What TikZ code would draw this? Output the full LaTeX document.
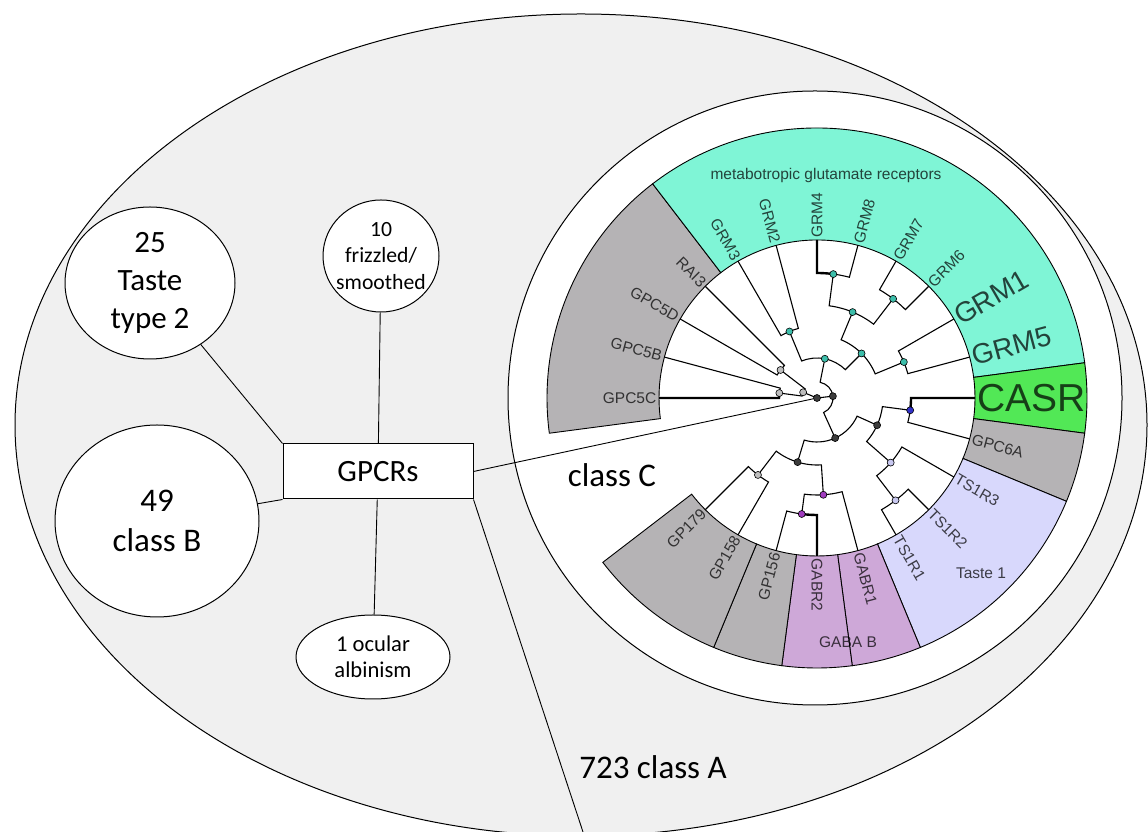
\documentclass[tikz,border=0pt]{standalone}
\usepackage{fontspec}
\setmainfont{Carlito}
\newfontfamily\treefont{Liberation Sans}
\usetikzlibrary{shapes.geometric}

\definecolor{bggray}{RGB}{240,240,240}
\definecolor{grmteal}{RGB}{127,245,214}
\definecolor{casrgreen}{RGB}{82,232,86}
\definecolor{sectgray}{RGB}{181,179,181}
\definecolor{tastelav}{RGB}{216,216,252}
\definecolor{gabapurple}{RGB}{206,168,216}
\definecolor{dotdark}{RGB}{60,60,60}
\definecolor{dotlight}{RGB}{190,190,190}
\definecolor{dotteal}{RGB}{60,190,170}
\definecolor{dotblue}{RGB}{50,50,200}
\definecolor{dotlav}{RGB}{200,200,240}
\definecolor{dotpurple}{RGB}{160,60,190}

\newcommand{\leaffont}{\treefont\fontsize{15.5}{18}\selectfont}
% branch: parent, parent angle, parent radius, child angle, child
\newcommand{\tbranch}[6][]{%
  \draw[branchline,#1] (#2) arc[start angle=#3, end angle=#5, radius=#4] -- (#6);}
\newcommand{\ringsector}[3]{%
  \draw[sectorline, fill=#1] (#2:158) arc[start angle=#2, end angle=#3, radius=158]
    -- (#3:270) arc[start angle=#3, end angle=#2, radius=270] -- cycle;}

\begin{document}
\begin{tikzpicture}[x=1pt, y=1pt,
    link/.style={line width=0.9pt},
    bubble/.style={ellipse, draw, fill=white, line width=1pt, inner sep=0pt},
    sectorline/.style={draw=black, line width=0.9pt},
    branchline/.style={line width=1.1pt},
    hilite/.style={line width=2.4pt},
    treedot/.style={circle, draw=black, line width=0.6pt, minimum size=7pt, inner sep=0pt},
    leafR/.style={anchor=west, inner sep=1.5pt, text opacity=0.72, font=\leaffont},
    leafL/.style={anchor=east, inner sep=1.5pt, text opacity=0.72, font=\leaffont}]

  \useasboundingbox (0,0) rectangle (1148,832);

  % Draw the big ellipse and the white ring
  \draw[fill=bggray, line width=1pt] (581,407) ellipse [x radius=566, y radius=411];
  \coordinate (C) at (817,434);
  \draw[fill=white, line width=1pt] (815,434) circle [radius=307];

  \begin{scope}[shift={(C)}]
    % Draw the coloured sectors
    \ringsector{sectgray}{127.5}{187.5}
    \ringsector{grmteal}{7.5}{127.5}
    \ringsector{casrgreen}{-7.5}{7.5}
    \ringsector{sectgray}{-22.5}{-7.5}
    \ringsector{tastelav}{-67.5}{-22.5}
    \ringsector{gabapurple}{-82.5}{-67.5}
    \ringsector{gabapurple}{-97.5}{-82.5}
    \ringsector{sectgray}{-112.5}{-97.5}
    \ringsector{sectgray}{-142.5}{-112.5}

    % Leaf tips
    \foreach \nm/\ang in {RAI3/135, GPC5D/150, GPC5B/165, GPC5C/180, GP179/225,
        GP158/240, GP156/255, GABR2/270, GABR1/285, TS1R1/300, TS1R2/315,
        TS1R3/330, GPC6A/345, CASR/0, GRM5/15, GRM1/30, GRM6/45, GRM7/60,
        GRM8/75, GRM4/90, GRM2/105, GRM3/120}
      \coordinate (t\nm) at (\ang:158);

    % Inner nodes of the tree
    \coordinate (root) at (0:0);
    \coordinate (nc) at (157.5:15);
    \coordinate (na) at (142.5:46);
    \coordinate (nb) at (172.5:38);
    \coordinate (nd) at (6.5625:16);
    \coordinate (ng) at (78.75:40);
    \coordinate (ng32) at (112.5:72);
    \coordinate (ng481) at (45:63);
    \coordinate (ng4876) at (67.5:93);
    \coordinate (ng48) at (82.5:125);
    \coordinate (ng76) at (52.5:125);
    \coordinate (ng15) at (22.5:94);
    \coordinate (nl) at (-65.625:44);
    \coordinate (nr) at (-24.375:66);
    \coordinate (ncasr) at (-7.5:94);
    \coordinate (nts) at (-41.25:98);
    \coordinate (nts21) at (-52.5:129);
    \coordinate (nll) at (-106.875:67);
    \coordinate (ngp) at (-127.5:97);
    \coordinate (ngab) at (-86.25:97);
    \coordinate (n156) at (-97.5:117);

    % Draw the branches
    \draw[branchline] (root) -- (nc);
    \draw[branchline] (root) -- (nd);
    \tbranch{nc}{157.5}{15}{142.5}{na}
    \tbranch{nc}{157.5}{15}{172.5}{nb}
    \tbranch{na}{142.5}{46}{135}{tRAI3}
    \tbranch{na}{142.5}{46}{150}{tGPC5D}
    \tbranch{nb}{172.5}{38}{165}{tGPC5B}
    \tbranch[hilite]{nb}{172.5}{38}{180}{tGPC5C}
    \tbranch{nd}{6.5625}{16}{78.75}{ng}
    \tbranch{nd}{6.5625}{16}{-65.625}{nl}
    \tbranch{ng}{78.75}{40}{112.5}{ng32}
    \tbranch{ng}{78.75}{40}{45}{ng481}
    \tbranch{ng32}{112.5}{72}{120}{tGRM3}
    \tbranch{ng32}{112.5}{72}{105}{tGRM2}
    \tbranch{ng481}{45}{63}{67.5}{ng4876}
    \tbranch{ng481}{45}{63}{22.5}{ng15}
    \tbranch{ng4876}{67.5}{93}{82.5}{ng48}
    \tbranch{ng4876}{67.5}{93}{52.5}{ng76}
    \tbranch[hilite]{ng48}{82.5}{125}{90}{tGRM4}
    \tbranch{ng48}{82.5}{125}{75}{tGRM8}
    \tbranch{ng76}{52.5}{125}{60}{tGRM7}
    \tbranch{ng76}{52.5}{125}{45}{tGRM6}
    \tbranch{ng15}{22.5}{94}{30}{tGRM1}
    \tbranch{ng15}{22.5}{94}{15}{tGRM5}
    \tbranch{nl}{-65.625}{44}{-24.375}{nr}
    \tbranch{nl}{-65.625}{44}{-106.875}{nll}
    \tbranch{nr}{-24.375}{66}{-7.5}{ncasr}
    \tbranch{nr}{-24.375}{66}{-41.25}{nts}
    \tbranch[hilite]{ncasr}{-7.5}{94}{0}{tCASR}
    \tbranch{ncasr}{-7.5}{94}{-15}{tGPC6A}
    \tbranch{nts}{-41.25}{98}{-30}{tTS1R3}
    \tbranch{nts}{-41.25}{98}{-52.5}{nts21}
    \tbranch{nts21}{-52.5}{129}{-45}{tTS1R2}
    \tbranch{nts21}{-52.5}{129}{-60}{tTS1R1}
    \tbranch{nll}{-106.875}{67}{-127.5}{ngp}
    \tbranch{nll}{-106.875}{67}{-86.25}{ngab}
    \tbranch{ngp}{-127.5}{97}{-135}{tGP179}
    \tbranch{ngp}{-127.5}{97}{-120}{tGP158}
    \tbranch{ngab}{-86.25}{97}{-97.5}{n156}
    \tbranch{ngab}{-86.25}{97}{-75}{tGABR1}
    \tbranch{n156}{-97.5}{117}{-105}{tGP156}
    \tbranch[hilite]{n156}{-97.5}{117}{-90}{tGABR2}
  \end{scope}

  % Draw the boxes on the left
  \node[draw, fill=white, line width=1pt, minimum width=190pt, minimum height=55pt,
    font=\fontsize{31}{37}\selectfont] (gpcr) at (378,360.5) {GPCRs};
  \node[bubble, minimum width=170pt, minimum height=152pt] (taste) at (150,549) {};
  \node[align=center, font=\fontsize{31}{38}\selectfont] (tastetxt) at (taste) {25\\Taste\\type 2};
  \node[bubble, minimum width=204pt, minimum height=192pt] (classb) at (157,311) {};
  \node[align=center, font=\fontsize{33}{40}\selectfont] (classbtxt) at (classb) {49\\class B};
  \node[bubble, minimum width=116pt, minimum height=112pt] (frizzled) at (381,576) {};
  \node[align=center, font=\fontsize{21.7}{26.5}\selectfont] (frizzledtxt) at (frizzled) {10\\frizzled/\\smoothed};
  \node[bubble, minimum width=154pt, minimum height=84pt] (ocular) at (373,175) {};
  \node[align=center, font=\fontsize{22.6}{26}\selectfont] (oculartxt) at (ocular) {1 ocular\\albinism};
  \coordinate (classAend) at (583,0);

  % Draw the connectors
  \draw[link] (taste) -- (gpcr.north west);
  \draw[link] (classb) -- (gpcr.south west);
  \draw[link] (frizzled) -- (gpcr);
  \draw[link] (ocular) -- (gpcr);
  \draw[link] (gpcr.east) -- (root);
  \draw[link] (gpcr.south east) -- (classAend);

  % Draw the dots of the tree
  \foreach \tn/\col in {root/dotdark, nd/dotdark, nl/dotdark, nr/dotdark, nll/dotdark,
      na/dotlight, nb/dotlight, nc/dotlight, ngp/dotlight, ng/dotteal, ng32/dotteal,
      ng481/dotteal, ng4876/dotteal, ng48/dotteal, ng76/dotteal, ng15/dotteal,
      ncasr/dotblue, nts/dotlav, nts21/dotlav, ngab/dotpurple, n156/dotpurple}
    \node[treedot, fill=\col] (d\tn) at (\tn) {};

  % Draw the leaf labels
  \begin{scope}[shift={(C)}]
    \foreach \nm/\ang in {RAI3/135, GPC5D/150, GPC5B/165, GPC5C/180, GP179/225,
        GP158/240, GP156/255, GRM2/105, GRM3/120}
      \node[leafL, rotate=\ang-180] (l\nm) at (\ang:159) {\nm};
    \foreach \nm/\ang in {GABR2/270, GABR1/285, TS1R1/300, TS1R2/315, TS1R3/330,
        GPC6A/345, GRM6/45, GRM7/60, GRM8/75, GRM4/90}
      \node[leafR, rotate=\ang] (l\nm) at (\ang:159) {\nm};
    \node[leafR, rotate=15, font=\treefont\fontsize{28}{32}\selectfont] (lGRM5) at (15:159) {GRM5};
    \node[leafR, rotate=30, font=\treefont\fontsize{28}{32}\selectfont] (lGRM1) at (30:159) {GRM1};
    \node[leafR, font=\treefont\fontsize{39}{44}\selectfont] (lCASR) at (0:159) {CASR};
  \end{scope}

  % Draw the group names
  \node[text opacity=0.72, font=\leaffont] (mglur) at (826,656) {metabotropic glutamate receptors};
  \node[text opacity=0.72, font=\leaffont] (taste1) at (981,259) {Taste 1};
  \node[text opacity=0.72, font=\leaffont] (gabab) at (848,190) {GABA B};
  \node[font=\fontsize{33}{40}\selectfont] (classc) at (612,357) {class C};
  \node[font=\fontsize{33}{40}\selectfont] (classa) at (653,65) {723 class A};

\end{tikzpicture}
\end{document}
